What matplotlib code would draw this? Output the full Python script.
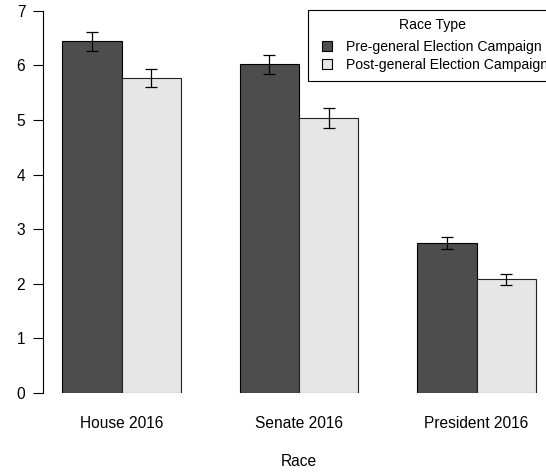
import matplotlib
matplotlib.use('Agg')
import matplotlib.pyplot as plt
from matplotlib.lines import Line2D

plt.rcParams['font.family'] = ['Liberation Sans', 'DejaVu Sans']

races = ['House 2016', 'Senate 2016', 'President 2016']
series_names = ['Pre-general Election Campaign', 'Post-general Election Campaign']
pre_means = [6.44, 6.02, 2.74]
pre_se = [0.17, 0.18, 0.11]
post_means = [5.77, 5.04, 2.08]
post_se = [0.16, 0.18, 0.10]
y_ticks = [0, 1, 2, 3, 4, 5, 6, 7]

W, H = 546, 473
fig = plt.figure(figsize=(W / 100, H / 100), dpi=100)
# axes placed in pixels to mimic the R barplot layout (runs off the right edge)
ax = fig.add_axes([43.4 / W, (H - 392.7) / H, 511.3 / W, 398.1 / H])

# R barplot(beside=TRUE) positions: bar width 1, one gap between groups
centers = [2 + 3 * i for i in range(len(races))]
pre_x = [c - 0.5 for c in centers]
post_x = [c + 0.5 for c in centers]

err_kw = dict(ecolor='black', elinewidth=0.9, capsize=4, capthick=0.9)
ax.bar(pre_x, pre_means, width=1, color='#4d4d4d', edgecolor='black',
       linewidth=0.8, yerr=pre_se, error_kw=err_kw)
ax.bar(post_x, post_means, width=1, color='#e6e6e6', edgecolor='#222222',
       linewidth=0.8, yerr=post_se, error_kw=err_kw)

ax.set_xlim(0.68, 9.32)
ax.set_ylim(0, 7.3)

for s in ['top', 'right', 'bottom']:
    ax.spines[s].set_visible(False)
ax.spines['left'].set_bounds(0, 7)
ax.spines['left'].set_linewidth(0.8)

ax.set_yticks(y_ticks)
ax.tick_params(axis='y', length=7, width=0.8, pad=6, labelsize=11.2)
ax.set_xticks(centers)
ax.set_xticklabels(races)
ax.tick_params(axis='x', length=0, pad=17, labelsize=11.2)
ax.set_xlabel('Race', fontsize=11.2, labelpad=16.4)

handles = [Line2D([], [], ls='none', marker='s', markersize=7.6,
                  markerfacecolor=c, markeredgecolor='black', markeredgewidth=0.8)
           for c in ['#4d4d4d', '#e6e6e6']]
leg = fig.legend(handles, series_names, title='Race Type',
                 loc='upper left', bbox_to_anchor=(308 / W, 1 - 10 / H),
                 bbox_transform=fig.transFigure, borderaxespad=0,
                 fontsize=10.1, title_fontsize=10.1, fancybox=False,
                 framealpha=1, edgecolor='black', handlelength=1.47,
                 handletextpad=0.62, labelspacing=0.32, borderpad=0.6)
leg.get_frame().set_linewidth(0.8)
# a bit more room between the title and the entries
leg._legend_box.sep = 5.4

fig.savefig('out.png', dpi=100)
